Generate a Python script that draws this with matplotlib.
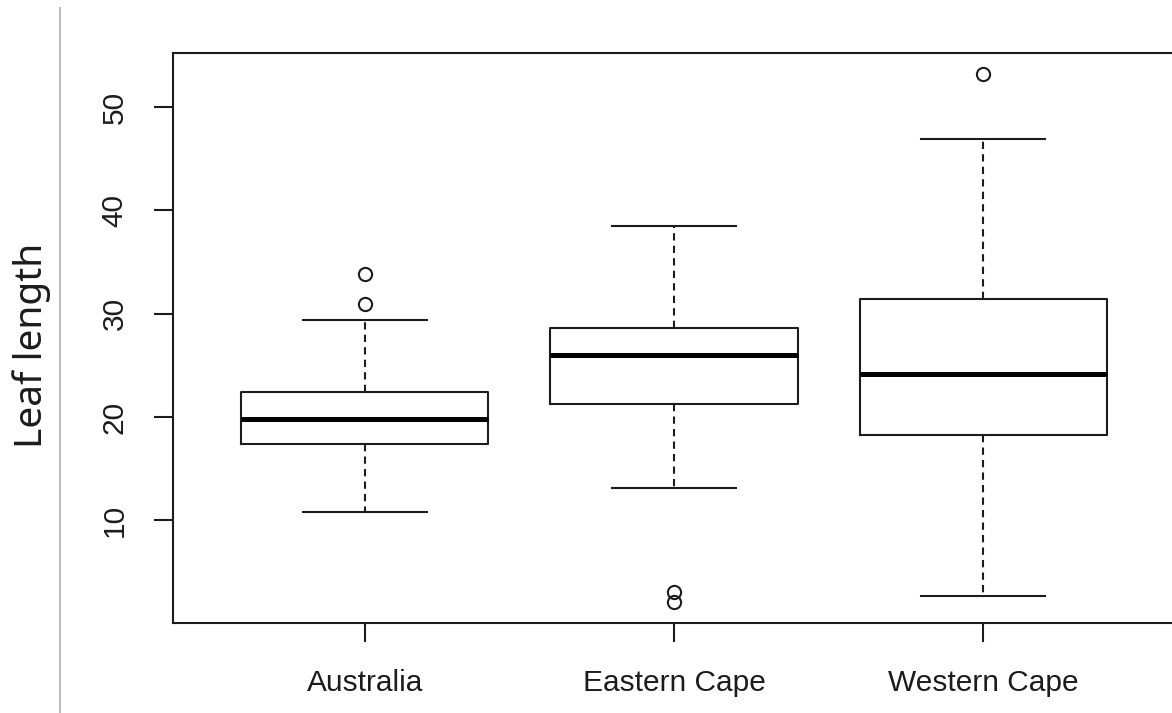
import matplotlib.pyplot as plt
from matplotlib.lines import Line2D

# values
groups = ["Australia", "Eastern Cape", "Western Cape"]
lower_whisker = [10.8, 13.1, 2.7]
q1 = [17.4, 21.3, 18.3]
medians = [19.8, 26.0, 24.2]
q3 = [22.4, 28.6, 31.4]
upper_whisker = [29.4, 38.5, 46.9]
outliers = [[30.9, 33.8], [2.1, 3.1], [53.2]]
yticks = [10, 20, 30, 40, 50]

W, H = 1172, 713
ink = "#1c1c1c"

fig = plt.figure(figsize=(W / 100, H / 100), dpi=100)
fig.patch.set_facecolor("white")

# axes box in pixel terms (the right edge runs past the picture, as in the source)
left, right, top, bottom = 173, 1175, 53, 623
ax = fig.add_axes([left / W, (H - bottom) / H, (right - left) / W, (bottom - top) / H])

stats = []
for i, name in enumerate(groups):
    stats.append(
        {
            "label": name,
            "whislo": lower_whisker[i],
            "q1": q1[i],
            "med": medians[i],
            "q3": q3[i],
            "whishi": upper_whisker[i],
            "fliers": outliers[i],
        }
    )

ax.bxp(
    stats,
    positions=[1, 2, 3],
    widths=0.8,
    capwidths=0.4,
    boxprops=dict(color=ink, linewidth=1.5),
    medianprops=dict(color="black", linewidth=3.6, solid_capstyle="butt"),
    whiskerprops=dict(color=ink, linewidth=1.5, linestyle=(0, (3.5, 2.5))),
    capprops=dict(color=ink, linewidth=1.5),
    flierprops=dict(marker="o", markerfacecolor="none", markeredgecolor=ink,
                    markersize=9.5, markeredgewidth=1.5),
)

# R style 4% padding
all_vals = lower_whisker + upper_whisker + [v for o in outliers for v in o]
lo, hi = min(all_vals), max(all_vals)
pad = 0.04 * (hi - lo)
ax.set_ylim(lo - pad, hi + pad)
ax.set_xlim(0.38, 3.62)

ax.set_yticks(yticks)
ax.set_xticks([1, 2, 3])
ax.set_xticklabels(groups)

for s in ax.spines.values():
    s.set_linewidth(1.5)
    s.set_color(ink)

ax.tick_params(axis="both", length=14, width=1.5, color=ink, labelsize=21.5,
               labelcolor=ink)
ax.tick_params(axis="x", pad=19)
ax.tick_params(axis="y", pad=18, labelrotation=90)
for lab in ax.get_xticklabels() + ax.get_yticklabels():
    lab.set_fontfamily("Liberation Sans")
for lab in ax.get_yticklabels():
    lab.set_verticalalignment("center")

fig.text(32 / W, 1 - 345 / H, "Leaf length", rotation=90, ha="center",
         va="center", fontsize=28, family="Noto Sans", color=ink)

# thin grey rule on the left of the picture
fig.add_artist(Line2D([60 / W, 60 / W], [0, 1 - 8 / H], color="#bdbdbd",
                      linewidth=1.5, transform=fig.transFigure))

fig.savefig("out.png", dpi=100)
